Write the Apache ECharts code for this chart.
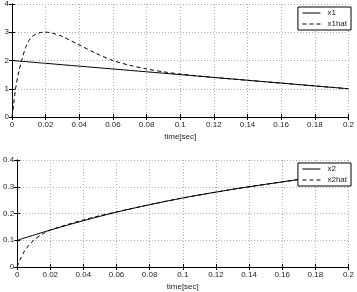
<!DOCTYPE html>
<html>
<head>
<meta charset="utf-8">
<script src="https://cdn.jsdelivr.net/npm/echarts@6/dist/echarts.min.js"></script>
<style>
  html, body { margin: 0; padding: 0; background: #fff; }
  #chart { width: 357px; height: 292px; }
</style>
</head>
<body>
<div id="chart"></div>
<script>
// top plot: x1 / x1hat
const tX1 = [0, 0.02, 0.04, 0.06, 0.08, 0.1, 0.12, 0.14, 0.16, 0.18, 0.2];
const x1 = [2.0, 1.9, 1.8, 1.7, 1.6, 1.5, 1.4, 1.3, 1.2, 1.1, 1.0];
const tX1hat = [0, 0.001, 0.002, 0.004, 0.006, 0.008, 0.01, 0.012, 0.015, 0.018, 0.021, 0.025, 0.03, 0.04, 0.05, 0.06, 0.07, 0.08, 0.09, 0.1, 0.12, 0.14, 0.16, 0.18, 0.2];
const x1hat = [0, 0.45, 0.95, 1.6, 2.05, 2.45, 2.7, 2.85, 2.95, 3.0, 3.0, 2.95, 2.85, 2.55, 2.25, 2.0, 1.83, 1.7, 1.6, 1.52, 1.4, 1.3, 1.2, 1.1, 1.0];

// bottom plot: x2 / x2hat
const tX2 = [0, 0.02, 0.04, 0.06, 0.08, 0.1, 0.12, 0.14, 0.16, 0.18, 0.2];
const x2 = [0.1, 0.138, 0.173, 0.205, 0.233, 0.258, 0.28, 0.3, 0.318, 0.336, 0.35];
const tX2hat = [0, 0.002, 0.005, 0.01, 0.015, 0.02, 0.03, 0.04, 0.05, 0.06, 0.08, 0.1, 0.12, 0.14, 0.16, 0.18, 0.2];
const x2hat = [0, 0.03, 0.065, 0.1, 0.122, 0.138, 0.158, 0.176, 0.192, 0.206, 0.233, 0.258, 0.28, 0.3, 0.318, 0.336, 0.35];

const zip = (t, v) => t.map((d, i) => [d, v[i]]);

const font = { fontFamily: "Liberation Sans", fontSize: 8, color: "#222" };

const xAxisBase = (gridIndex) => ({
  type: "value",
  gridIndex,
  min: 0,
  max: 0.2,
  interval: 0.02,
  name: "time[sec]",
  nameLocation: "middle",
  nameGap: 16,
  nameTextStyle: font,
  axisLine: { show: true, onZero: false, lineStyle: { color: "#000" } },
  axisTick: { inside: true, length: 3, lineStyle: { color: "#000" } },
  axisLabel: { ...font, margin: 4 },
  splitLine: { show: true, lineStyle: { color: "#aaa", type: [1, 2] } },
});

const yAxisBase = (gridIndex, max, interval) => ({
  type: "value",
  gridIndex,
  min: 0,
  max,
  interval,
  axisLine: { show: true, lineStyle: { color: "#000" } },
  axisTick: { show: true, inside: true, length: 3, lineStyle: { color: "#000" } },
  axisLabel: { ...font, margin: 3 },
  splitLine: { show: true, lineStyle: { color: "#aaa", type: [1, 2] } },
});

// mirrored axes, ticks only
const xMirror = (gridIndex) => ({
  type: "value", gridIndex, position: "top", min: 0, max: 0.2, interval: 0.02,
  axisLine: { show: true, lineStyle: { color: "#000" } },
  axisTick: { inside: true, length: 3, lineStyle: { color: "#000" } },
  axisLabel: { show: false }, splitLine: { show: false },
});
const yMirror = (gridIndex, max, interval) => ({
  type: "value", gridIndex, position: "right", min: 0, max, interval,
  axisLine: { show: true, lineStyle: { color: "#000" } },
  axisTick: { show: true, inside: true, length: 3, lineStyle: { color: "#000" } },
  axisLabel: { show: false }, splitLine: { show: false },
});

const lineSeries = (name, data, xi, yi, dashed) => ({
  name,
  type: "line",
  xAxisIndex: xi,
  yAxisIndex: yi,
  data,
  symbol: "none",
  smooth: 0.3,
  animation: false,
  lineStyle: { color: "#000", width: 1, type: dashed ? [4, 3] : "solid" },
  itemStyle: { color: "#000" },
});

const legendBase = (top, names) => ({
  data: names,
  orient: "vertical",
  right: 6,
  top,
  itemWidth: 18,
  itemHeight: 6,
  itemGap: 3,
  padding: [2, 4, 2, 4],
  borderColor: "#000",
  borderWidth: 1,
  backgroundColor: "#fff",
  itemStyle: { opacity: 0 },
  lineStyle: { width: 1 },
  textStyle: { ...font, padding: [0, 0, 0, 2] },
});

const chart = echarts.init(document.getElementById("chart"));
chart.setOption({
  animation: false,
  grid: [
    { left: 12, top: 4, width: 341, height: 113 },
    { left: 12, top: 160, width: 341, height: 113 },
  ],
  xAxis: [xAxisBase(0), xAxisBase(1), xMirror(0), xMirror(1)],
  yAxis: [yAxisBase(0, 4, 1), yAxisBase(1, 0.4, 0.1), yMirror(0, 4, 1), yMirror(1, 0.4, 0.1)],
  legend: [legendBase(7, ["x1", "x1hat"]), legendBase(163, ["x2", "x2hat"])],
  series: [
    lineSeries("x1", zip(tX1, x1), 0, 0, false),
    lineSeries("x1hat", zip(tX1hat, x1hat), 0, 0, true),
    lineSeries("x2", zip(tX2, x2), 1, 1, false),
    lineSeries("x2hat", zip(tX2hat, x2hat), 1, 1, true),
  ],
});
</script>
</body>
</html>
